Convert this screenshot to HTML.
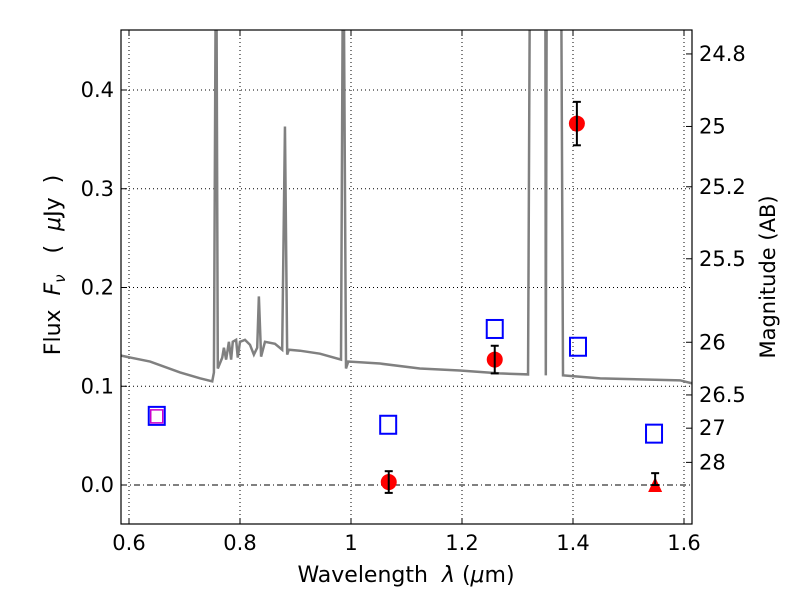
<!DOCTYPE html>
<html><head><meta charset="utf-8"><style>
body{margin:0;background:#fff;}
svg text{font-family:"DejaVu Sans","Liberation Sans",sans-serif;}
</style></head><body>
<svg id="chart" width="800" height="600" xmlns="http://www.w3.org/2000/svg">
<rect width="800" height="600" fill="#fff"/>
<g id="grid"></g>
<g id="spec"></g>
<g id="marks"></g>
<rect x="121" y="30" width="571" height="494" fill="none" stroke="#000" stroke-width="1.2"/>
<g id="axes"></g>
<text x="406" y="582" font-size="22" text-anchor="middle" xml:space="preserve">Wavelength  <tspan font-style="italic">λ</tspan> (<tspan font-style="italic">μ</tspan>m)</text>
<text transform="translate(60,265) rotate(-90)" font-size="22" text-anchor="middle" xml:space="preserve">Flux  <tspan font-style="italic">F</tspan><tspan font-style="italic" font-size="15" dy="5">ν</tspan><tspan dy="-5">   (  </tspan><tspan font-style="italic">μ</tspan>Jy  )</text>
<text transform="translate(775,277) rotate(-90)" font-size="21" text-anchor="middle">Magnitude (AB)</text>
</svg>
<script>
const specLam=[0.5856,0.638,0.692,0.728,0.750,0.753,0.757,0.760,0.768,0.771,0.775,0.780,0.784,0.787,0.793,0.796,0.800,0.809,0.818,0.825,0.831,0.834,0.838,0.845,0.863,0.876,0.881,0.885,0.888,0.908,0.944,0.982,0.986,0.991,0.995,1.052,1.124,1.196,1.268,1.319,1.323,1.350,1.351,1.353,1.378,1.382,1.449,1.521,1.593,1.614];
const specFlux=[0.131,0.125,0.114,0.108,0.105,0.114,0.6,0.118,0.129,0.139,0.127,0.145,0.127,0.145,0.147,0.129,0.145,0.147,0.142,0.132,0.139,0.191,0.130,0.145,0.143,0.137,0.363,0.132,0.137,0.136,0.133,0.127,0.6,0.118,0.125,0.123,0.118,0.116,0.113,0.112,0.6,0.6,0.111,0.6,0.6,0.111,0.108,0.107,0.106,0.103];
const detLam=[1.068,1.259,1.407];
const detFlux=[0.003,0.127,0.366];
const detErr=[0.011,0.014,0.022];
const limLam=[1.548];
const limFlux=[0.0];
const limErr=[0.012];
const modLam=[0.650,1.067,1.259,1.409,1.546];
const modFlux=[0.070,0.061,0.158,0.140,0.052];
const xTicks=[0.6,0.8,1.0,1.2,1.4,1.6];
const xTickLabels=["0.6","0.8","1","1.2","1.4","1.6"];
const yTicks=[0.0,0.1,0.2,0.3,0.4];
const yTickLabels=["0.0","0.1","0.2","0.3","0.4"];
const magTicks=[24.8,25,25.2,25.5,26,26.5,27,28];
const magTickLabels=["24.8","25","25.2","25.5","26","26.5","27","28"];

const L=121,R=692,T=30,B=524;
const X=v=>129+(v-0.6)*555;
const Y=f=>485-f*987.5;
const NS='http://www.w3.org/2000/svg';
function mk(tag,attrs,parent){const e=document.createElementNS(NS,tag);for(const k in attrs)e.setAttribute(k,attrs[k]);parent.appendChild(e);return e;}
const grid=document.getElementById('grid'),axes=document.getElementById('axes'),spec=document.getElementById('spec'),marks=document.getElementById('marks');

xTicks.forEach((t,i)=>{const x=X(t);
 const g=mk('line',{x1:x,x2:x,y1:T,y2:B,stroke:'#000','stroke-width':1,'stroke-dasharray':'1,3'},grid);
 
 mk('line',{x1:x,x2:x,y1:B,y2:B-6,stroke:'#000'},axes);
 mk('line',{x1:x,x2:x,y1:T,y2:T+6,stroke:'#000'},axes);
 const tx=mk('text',{x:x,y:B+26,'font-size':21,'text-anchor':'middle'},axes);tx.textContent=xTickLabels[i];
 
});
yTicks.forEach((t,i)=>{const y=Y(t);
 const g=mk('line',{x1:L,x2:R,y1:y,y2:y,stroke:'#000','stroke-width':1,'stroke-dasharray':t===0?'6,3,1,3':'1,3'},grid);
 
 mk('line',{x1:L,x2:L+6,y1:y,y2:y,stroke:'#000'},axes);
 const tx=mk('text',{x:L-7,y:y+7,'font-size':21,'text-anchor':'end'},axes);tx.textContent=yTickLabels[i];
 
});
magTicks.forEach((m,i)=>{const y=Y(Math.pow(10,(23.9-m)/2.5));
 mk('line',{x1:R,x2:R-6,y1:y,y2:y,stroke:'#000'},axes);
 const tx=mk('text',{x:R+7,y:y+7,'font-size':21},axes);tx.textContent=magTickLabels[i];
 
});

const cp=mk('clipPath',{id:'clip'},document.getElementById('chart'));
mk('rect',{x:L,y:T,width:R-L,height:B-T},cp);
const sp=mk('polyline',{points:specLam.map((l,i)=>X(l)+','+Y(specFlux[i])).join(' '),fill:'none',stroke:'#808080','stroke-width':2.5,'clip-path':'url(#clip)'},spec);


modLam.forEach((l,i)=>{const x=X(l),y=Y(modFlux[i]);
 const r=mk('rect',{x:x-8,y:y-9,width:16,height:18,fill:'none',stroke:'#0000ff','stroke-width':2},marks);
 
 if(i===0){mk('rect',{x:x-6,y:y-6,width:12,height:13,fill:'none',stroke:'#cc00cc','stroke-width':1.5},marks);}
});
detLam.forEach((l,i)=>{const x=X(l),y=Y(detFlux[i]),y1=Y(detFlux[i]+detErr[i]),y2=Y(detFlux[i]-detErr[i]);
 const c=mk('circle',{cx:x,cy:y,r:8,fill:'#ff0000'},marks);
 
 mk('line',{x1:x,x2:x,y1:y1,y2:y2,stroke:'#000','stroke-width':2},marks);
 mk('line',{x1:x-4,x2:x+4,y1:y1,y2:y1,stroke:'#000','stroke-width':2},marks);
 mk('line',{x1:x-4,x2:x+4,y1:y2,y2:y2,stroke:'#000','stroke-width':2},marks);
});
limLam.forEach((l,i)=>{const x=X(l),y=Y(limFlux[i]),y1=Y(limFlux[i]+limErr[i]);
 const p=mk('polygon',{points:`${x},${y-8} ${x-7},${y+7} ${x+7},${y+7}`,fill:'#ff0000'},marks);
 
 mk('line',{x1:x,x2:x,y1:y1,y2:y,stroke:'#000','stroke-width':2},marks);
 mk('line',{x1:x-4,x2:x+4,y1:y1,y2:y1,stroke:'#000','stroke-width':2},marks);
 mk('line',{x1:x-4,x2:x+4,y1:y,y2:y,stroke:'#000','stroke-width':2},marks);
});
</script>
</body></html>
